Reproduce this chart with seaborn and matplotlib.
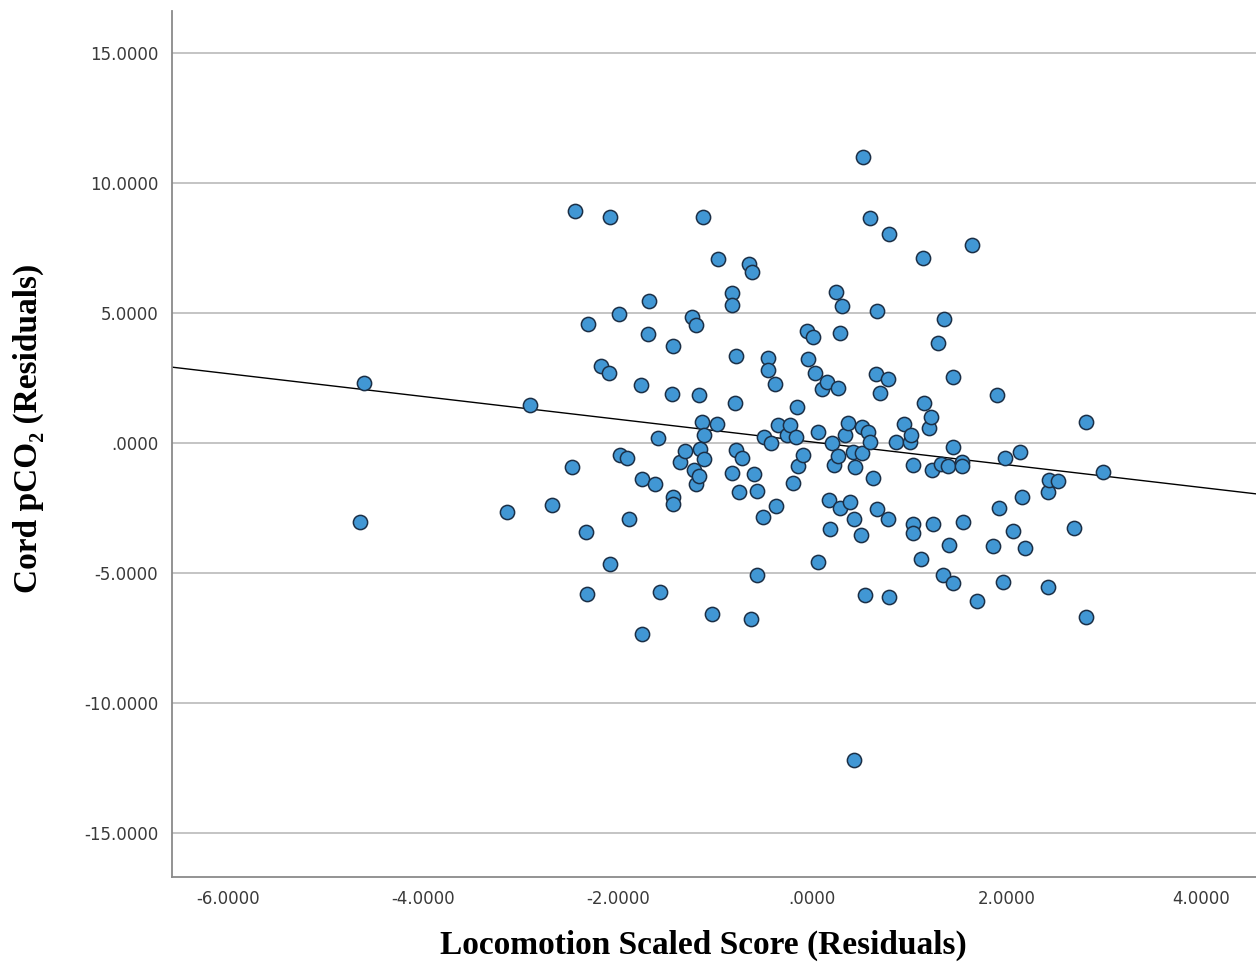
import numpy as np
import pandas as pd
import matplotlib
matplotlib.use("Agg")
import matplotlib.pyplot as plt
from matplotlib.ticker import FuncFormatter, MultipleLocator
import seaborn as sns

# Partial regression residuals
locomotion_resid = [
    -4.61, -4.65, -2.90, -3.14, -2.67, -2.44, -2.47, -2.33, -2.32, -2.31,
    -2.17, -2.09, -2.08, -2.08, -1.99, -1.98, -1.90, -1.88, -1.76, -1.75,
    -1.75, -1.68, -1.69, -1.62, -1.59, -1.57, -1.43, -1.44, -1.43, -1.43,
    -1.36, -1.31, -1.24, -1.22, -1.19, -1.19, -1.16, -1.15, -1.13, -1.12,
    -1.11, -1.11, -1.16, -1.03, -0.98, -0.97, -0.83, -0.83, -0.82, -0.79,
    -0.78, -0.78, -0.75, -0.72, -0.65, -0.63, -0.62, -0.60, -0.57, -0.57,
    -0.51, -0.50, -0.46, -0.45, -0.42, -0.38, -0.37, -0.35, -0.26, -0.23,
    -0.20, -0.17, -0.16, -0.15, -0.10, -0.05, -0.04, 0.01, 0.03, 0.06,
    0.06, 0.10, 0.15, 0.17, 0.18, 0.20, 0.22, 0.24, 0.26, 0.26,
    0.28, 0.29, 0.31, 0.34, 0.37, 0.39, 0.42, 0.43, 0.43, 0.44,
    0.51, 0.50, 0.51, 0.52, 0.54, 0.57, 0.59, 0.59, 0.62, 0.66,
    0.67, 0.65, 0.70, 0.78, 0.78, 0.79, 0.79, 0.86, 0.94, 1.00,
    1.01, 1.04, 1.04, 1.04, 1.12, 1.14, 1.15, 1.20, 1.22, 1.23,
    1.24, 1.29, 1.32, 1.34, 1.35, 1.39, 1.40, 1.45, 1.45, 1.45,
    1.54, 1.55, 1.54, 1.64, 1.69, 1.86, 1.90, 1.92, 1.96, 1.98,
    2.06, 2.13, 2.16, 2.19, 2.42, 2.42, 2.43, 2.53, 2.69, 2.81,
    2.81, 2.99,
]
pco2_resid = [
    2.31, -3.04, 1.46, -2.65, -2.38, 8.92, -0.92, -3.42, -5.81, 4.58,
    2.96, 2.69, 8.69, -4.65, 4.96, -0.46, -0.58, -2.92, 2.23, -1.38,
    -7.35, 5.46, 4.19, -1.58, 0.19, -5.73, 3.73, 1.88, -2.08, -2.35,
    -0.73, -0.31, 4.85, -1.04, 4.54, -1.58, 1.85, -0.23, 0.81, 8.69,
    0.31, -0.62, -1.27, -6.58, 0.73, 7.08, 5.77, 5.31, -1.15, 1.54,
    3.35, -0.27, -1.88, -0.58, 6.88, -6.77, 6.58, -1.19, -1.85, -5.08,
    -2.85, 0.23, 3.27, 2.81, 0.00, 2.27, -2.42, 0.69, 0.31, 0.69,
    -1.54, 0.23, 1.38, -0.88, -0.46, 4.31, 3.23, 4.08, 2.69, 0.42,
    -4.58, 2.08, 2.35, -2.19, -3.31, 0.00, -0.85, 5.81, -0.50, 2.12,
    -2.50, 4.23, 5.27, 0.31, 0.77, -2.27, -0.35, -2.92, -12.19, -0.92,
    0.62, -3.54, -0.38, 11.00, -5.85, 0.42, 0.04, 8.65, -1.35, -2.54,
    5.08, 2.65, 1.92, 2.46, -2.92, 8.04, -5.92, 0.04, 0.73, 0.04,
    0.31, -3.12, -3.46, -0.85, -4.46, 7.12, 1.54, 0.58, 1.00, -1.04,
    -3.12, 3.85, -0.81, -5.08, 4.77, -0.88, -3.92, -5.38, 2.54, -0.15,
    -0.73, -3.04, -0.88, 7.62, -6.08, -3.96, 1.85, -2.50, -5.35, -0.58,
    -3.38, -0.35, -2.08, -4.04, -5.54, -1.88, -1.42, -1.46, -3.27, 0.81,
    -6.69, -1.12,
]

x_ticks = [-6, -4, -2, 0, 2, 4]
y_ticks = [-15, -10, -5, 0, 5, 10, 15]
x_range = (-6.58, 4.56)
y_range = (-16.7, 16.6)
x_label = "Locomotion Scaled Score (Residuals)"
y_label = "Cord pCO\u2082 (Residuals)"

df = pd.DataFrame({"x": locomotion_resid, "y": pco2_resid})

sns.set_theme(style="white")
plt.rcParams["font.family"] = ["DejaVu Sans"]

fig = plt.figure(figsize=(12.56, 9.72), dpi=100)
ax = fig.add_axes([172 / 1256, 1 - 877 / 972, 1 - 172 / 1256, (877 - 11) / 972])

# limits first so the untruncated fit line spans the full width
ax.set_xlim(*x_range)
ax.set_ylim(*y_range)

# horizontal reference lines at each y tick
ax.yaxis.set_major_locator(MultipleLocator(5))
ax.grid(axis="y", color="#b4b4b4", linewidth=1.1, zorder=0)
ax.grid(axis="x", visible=False)
ax.set_axisbelow(True)

sns.regplot(
    data=df, x="x", y="y", ax=ax, ci=None, truncate=False,
    scatter_kws=dict(s=105, color="#4197d4", edgecolor="#1b2f46",
                     linewidths=1.1, alpha=1, zorder=3),
    line_kws=dict(color="black", linewidth=1.0, zorder=2),
)
ax.set_xlim(*x_range)
ax.set_ylim(*y_range)

def spss_fmt(v, pos):
    s = f"{v:.4f}"
    if s.startswith("0."):
        s = s[1:]
    elif s.startswith("-0."):
        s = "-" + s[2:]
    if s == "-.0000":
        s = ".0000"
    return s

ax.set_xticks(x_ticks)
ax.set_yticks(y_ticks)
ax.xaxis.set_major_formatter(FuncFormatter(spss_fmt))
ax.yaxis.set_major_formatter(FuncFormatter(spss_fmt))
ax.tick_params(axis="both", length=0, labelsize=12, labelcolor="#3a3a3a")
ax.tick_params(axis="y", pad=10)
ax.tick_params(axis="x", pad=9)

for side in ("top", "right"):
    ax.spines[side].set_visible(False)
for side in ("left", "bottom"):
    ax.spines[side].set_color("#8a8a8a")
    ax.spines[side].set_linewidth(1.3)

ax.set_xlabel("")
ax.set_ylabel("")
serif = ["Liberation Serif", "DejaVu Serif"]
fig.text(703 / 1256, 1 - 945 / 972, x_label, ha="center", va="center",
         fontsize=24, fontweight="bold", family=serif, color="black")
fig.text(28 / 1256, 1 - 428 / 972, y_label, ha="center", va="center",
         rotation=90, fontsize=24, fontweight="bold", family=serif, color="black")

fig.savefig("out.png", dpi=100, facecolor="white")
